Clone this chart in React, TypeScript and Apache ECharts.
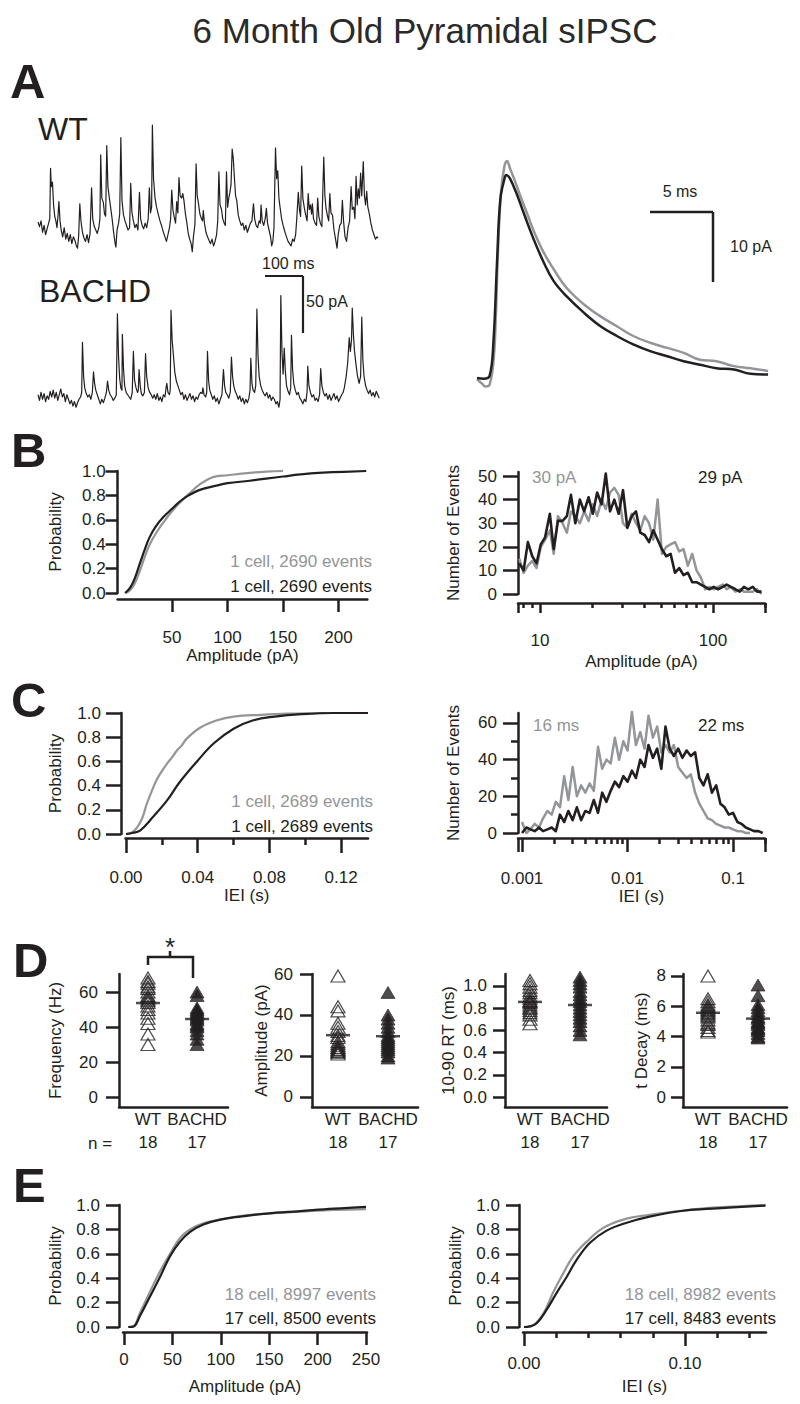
import React, { useEffect, useRef } from 'react';
import * as echarts from 'echarts';

// ---------------- DATA ----------------
// Panel A: raw sIPSC traces (time ms, current pA; inward events drawn upward)
const wtTrace: number[][] = [[0,7],[4,3],[8,8],[12,-2],[16,4],[20,-4],[24,1],[28,6],[31,10],[33,54],[35,38],[38,42],[41,22],[44,12],[47,8],[50,2],[53,14],[55,25],[58,8],[61,0],[65,-6],[69,2],[73,-8],[77,-3],[81,-10],[85,-4],[89,-12],[93,-6],[97,-9],[101,-14],[104,-16],[107,-5],[110,23],[113,8],[117,-2],[121,-7],[125,-10],[129,-4],[133,-11],[137,-3],[141,37],[144,10],[148,3],[152,0],[156,-3],[160,2],[163,10],[165,66],[168,28],[172,24],[175,14],[178,12],[181,74],[184,38],[187,30],[191,20],[195,10],[199,-2],[203,-12],[205,-15],[208,0],[212,6],[215,14],[218,81],[221,26],[225,13],[229,8],[233,4],[237,0],[241,2],[244,41],[247,16],[251,8],[255,2],[259,5],[263,0],[267,33],[270,10],[274,4],[278,1],[282,6],[286,2],[290,10],[293,37],[296,15],[299,20],[301,92],[304,45],[308,28],[312,20],[317,13],[321,8],[325,4],[330,-2],[334,-6],[338,-10],[342,-4],[346,2],[349,10],[352,35],[355,18],[358,12],[362,6],[365,25],[368,15],[371,46],[374,30],[378,28],[381,32],[384,26],[388,14],[391,8],[395,-2],[399,-8],[403,-12],[406,-19],[409,-6],[413,5],[416,58],[419,30],[422,24],[426,14],[430,10],[433,8],[435,17],[438,6],[442,-2],[446,-6],[450,-9],[454,-12],[458,-8],[462,-14],[466,-10],[470,-4],[473,8],[476,51],[479,22],[483,18],[486,10],[490,6],[493,4],[496,51],[499,20],[502,28],[505,33],[508,40],[511,71],[514,62],[517,45],[520,30],[523,26],[527,13],[531,8],[535,4],[539,6],[543,0],[547,4],[551,-2],[555,2],[559,6],[563,8],[567,23],[570,10],[574,4],[578,2],[582,8],[585,6],[587,22],[590,8],[594,4],[598,10],[601,19],[604,6],[608,0],[612,-6],[615,-14],[618,-10],[621,2],[625,72],[628,45],[631,52],[634,28],[637,20],[641,10],[645,4],[650,-2],[654,-6],[658,-10],[662,-12],[666,-14],[670,-8],[674,-10],[678,-4],[681,10],[685,33],[688,18],[691,12],[694,56],[697,28],[701,19],[704,14],[708,8],[711,32],[714,18],[717,22],[720,14],[722,23],[725,10],[729,6],[733,4],[736,28],[739,12],[743,6],[747,3],[752,64],[755,30],[758,19],[762,12],[765,8],[768,32],[771,15],[775,13],[779,0],[783,-8],[787,-16],[790,-4],[794,4],[798,6],[801,26],[804,8],[808,-6],[812,-10],[816,2],[820,8],[824,38],[827,18],[831,20],[834,10],[837,47],[840,22],[843,36],[846,28],[849,50],[852,30],[856,60],[859,30],[862,22],[865,34],[868,20],[872,14],[876,6],[880,0],[884,-4],[888,-8],[892,-6],[895,-7]];

const bachdTrace: number[][] = [[0,2],[4,-3],[8,4],[12,-2],[16,3],[20,-4],[24,1],[28,-2],[32,5],[36,0],[40,6],[44,-1],[48,4],[52,-3],[56,2],[60,7],[64,0],[68,3],[72,-4],[76,2],[80,-2],[84,-6],[88,-3],[92,-8],[96,-4],[100,-9],[104,-5],[108,-2],[112,0],[115,4],[117,48],[120,18],[123,8],[127,3],[131,0],[135,2],[139,-2],[143,4],[146,22],[149,12],[152,6],[156,2],[160,-2],[164,-6],[168,-2],[172,-5],[176,-1],[180,4],[183,14],[186,6],[190,2],[194,0],[198,-3],[202,-1],[206,2],[209,73],[212,35],[215,16],[218,8],[221,6],[222,55],[225,25],[228,10],[232,4],[236,2],[240,0],[244,-2],[248,4],[251,40],[254,15],[258,8],[262,4],[264,6],[266,24],[269,10],[272,3],[276,1],[280,4],[283,38],[286,18],[290,8],[294,4],[298,2],[302,-1],[306,2],[310,-2],[314,3],[318,-3],[322,0],[326,-4],[330,2],[334,0],[337,8],[339,12],[342,4],[346,2],[348,6],[350,76],[353,50],[356,38],[360,22],[364,14],[368,10],[372,6],[376,2],[380,4],[384,-2],[388,2],[392,-3],[396,0],[400,3],[404,-2],[408,1],[412,-4],[416,0],[420,-2],[424,2],[428,4],[432,3],[434,8],[437,2],[441,0],[444,4],[446,40],[449,14],[452,6],[456,2],[460,-2],[464,1],[468,-4],[472,-1],[476,-6],[480,-2],[484,2],[488,24],[491,10],[494,4],[498,2],[502,-1],[506,4],[509,35],[512,18],[515,10],[519,5],[523,2],[527,-2],[531,1],[535,-4],[539,-1],[543,-6],[547,-2],[551,-5],[555,-1],[558,6],[560,34],[563,12],[566,6],[570,4],[573,10],[576,77],[579,36],[582,18],[586,10],[590,6],[594,3],[598,1],[602,4],[606,-1],[610,2],[614,-3],[618,0],[622,-2],[626,-6],[630,-4],[634,-9],[637,-2],[639,89],[642,40],[645,20],[648,43],[651,22],[654,10],[658,5],[662,2],[665,8],[667,54],[670,24],[673,12],[677,6],[681,2],[685,4],[689,-1],[693,-3],[697,-6],[701,-2],[705,-4],[708,4],[710,27],[713,10],[717,4],[721,0],[725,2],[729,-3],[733,-1],[737,-4],[741,2],[744,25],[747,10],[751,4],[755,1],[759,3],[763,-2],[767,2],[771,-3],[775,0],[779,3],[783,-2],[787,1],[791,-4],[795,-1],[799,2],[803,4],[806,8],[808,12],[811,18],[815,30],[819,52],[822,40],[825,50],[827,78],[830,55],[833,40],[837,28],[841,18],[845,12],[849,18],[852,70],[855,32],[858,18],[862,10],[866,6],[870,3],[874,6],[878,1],[882,4],[886,0],[890,5],[894,2],[898,-1]];

// Panel A right: averaged sIPSC (time ms, pA)
const avgWT: number[][] = [[0,-0.2],[0.4,-0.8],[0.66,-1.2],[1.0,-0.95],[1.32,2.6],[1.5,9],[1.64,16.9],[1.9,26.4],[2.17,30.2],[2.38,31],[2.65,29.8],[3.0,28.2],[3.44,26],[4.0,23.4],[4.5,21],[5.3,17.9],[6.1,15.5],[7.1,12.9],[8.5,10.5],[9.8,8.8],[11.1,7.4],[12.4,6],[13.8,5],[15.1,4.3],[16.4,3.6],[17.7,2.6],[19.0,2.4],[20.4,1.7],[21.7,1.4],[23.1,1]];
const avgBACHD: number[][] = [[0,0],[0.53,-0.1],[1.0,0.3],[1.3,5],[1.6,17],[1.85,25.5],[2.2,28.6],[2.33,29],[2.9,27.4],[3.7,23.6],[4.5,19.8],[5.3,16.5],[6.1,13.8],[7.1,11.7],[8.5,9.3],[9.8,7.4],[11.1,6],[12.4,4.8],[13.8,3.8],[15.1,3.1],[16.4,2.4],[17.7,1.9],[19.0,1.4],[20.4,1.2],[21.7,0.6],[23.1,0.5]];

// Panel B left: amplitude cumulative probability (pA, P)
const ampCdfWT: number[][] = [[8,0],[12,0.02],[16,0.07],[21,0.18],[26,0.31],[30,0.4],[37,0.51],[44,0.6],[50,0.67],[57,0.74],[65,0.81],[75,0.89],[87,0.95],[100,0.965],[120,0.985],[135,0.995],[150,1.0]];
const ampCdfBACHD: number[][] = [[7.7,0],[12,0.04],[16,0.11],[21,0.24],[26,0.37],[30,0.46],[35,0.54],[42,0.62],[50,0.69],[57,0.75],[65,0.8],[75,0.845],[90,0.88],[100,0.9],[120,0.92],[150,0.955],[175,0.98],[195,0.99],[225,1.0]];

// Panel B right: amplitude histogram (log bins)
const ampBins = [7.59,8.04,8.51,9.02,9.55,10.1,10.7,11.4,12.0,12.7,13.5,14.3,15.1,16.0,17.0,18.0,19.1,20.2,21.4,22.7,24.0,25.4,26.9,28.5,30.2,32.0,33.9,35.9,38.0,40.3,42.7,45.2,47.9,50.7,53.7,56.9,60.3,63.8,67.6,71.6,75.9,80.4,85.1,90.2,95.5,101,107,114,120,127,135,143,151,160,170,180,191];
const ampHistWT = [15,9,12,14,11,20,23,27,17,33,30,26,35,33,30,35,31,38,33,40,36,43,45,42,30,28,34,30,27,33,30,23,40,17,20,21,22,18,19,12,17,10,7,2,3,2,3,4,2,3,1,2,1,1,1,2,0];
const ampHistBACHD = [13,10,22,16,13,21,24,34,19,31,31,33,42,30,40,35,41,34,43,38,51,35,40,34,44,28,33,35,26,25,22,27,23,19,16,17,9,11,8,9,5,5,4,3,2,3,2,3,4,3,2,1,3,2,3,1,1];
const ampMajor = [10, 100];
const ampMinor = [8, 9, 20, 30, 40, 50, 60, 70, 80, 90, 200];

// Panel C left: IEI cumulative probability (s, P)
const ieiCdfWT: number[][] = [[0,0],[0.003,0.01],[0.006,0.05],[0.009,0.13],[0.0116,0.25],[0.0145,0.36],[0.0172,0.45],[0.02,0.52],[0.0228,0.58],[0.026,0.64],[0.0284,0.69],[0.031,0.73],[0.034,0.79],[0.0415,0.88],[0.0508,0.94],[0.06,0.97],[0.075,0.985],[0.09,0.995],[0.1116,1.0]];
const ieiCdfBACHD: number[][] = [[0,0],[0.004,0.01],[0.008,0.03],[0.015,0.14],[0.023,0.28],[0.03,0.43],[0.0396,0.6],[0.049,0.75],[0.06,0.87],[0.071,0.94],[0.083,0.97],[0.098,0.99],[0.116,1.0],[0.135,1.0]];

// Panel C right: IEI histogram (log bins, s)
const ieiBins = [0.00100,0.00110,0.00120,0.00132,0.00145,0.00158,0.00174,0.00191,0.00209,0.00229,0.00251,0.00275,0.00302,0.00331,0.00363,0.00398,0.00437,0.00479,0.00525,0.00575,0.00631,0.00692,0.00759,0.00832,0.00912,0.0100,0.0110,0.0120,0.0132,0.0145,0.0158,0.0174,0.0191,0.0209,0.0229,0.0251,0.0275,0.0302,0.0331,0.0363,0.0398,0.0437,0.0479,0.0525,0.0575,0.0631,0.0692,0.0759,0.0832,0.0912,0.100,0.110,0.120,0.132,0.145,0.158,0.174,0.191];
const ieiHistWT = [6,0,2,5,3,8,12,10,17,14,31,18,36,20,26,22,27,23,47,35,40,38,52,40,50,45,66,48,55,46,64,52,58,44,48,44,48,36,33,30,32,22,16,12,8,7,5,4,3,3,2,1,1,0,0];
const ieiHistBACHD = [0,3,2,1,3,1,2,3,1,10,6,12,7,14,7,12,11,18,11,22,17,23,28,25,31,28,34,30,40,36,48,41,46,35,58,46,42,46,41,45,42,44,30,26,32,22,26,16,14,10,11,6,5,3,2,1,1,0];
const ieiMajor = [0.001, 0.01, 0.1];
const ieiMinor = [0.002,0.003,0.004,0.005,0.006,0.007,0.008,0.009,0.02,0.03,0.04,0.05,0.06,0.07,0.08,0.09,0.2];

// Panel D: per-cell values
const groups = ['WT', 'BACHD'];
const nCells = [18, 17];
const freqWT = [68,66,65,63,62,60,58,57,56,55,54,52,50,48,45,42,36,30];
const freqBACHD = [60,58,51,50,49,48,47,46,45,44,42,41,40,38,36,33,30];
const ampWT = [59,44,42,36,34,32,30,29,27,26,25,24,24,23,23,22,22,21];
const ampBACHD = [51,40,38,36,34,32,30,29,28,27,26,25,24,23,22,20,19];
const rtWT = [1.05,1.02,0.99,0.96,0.94,0.91,0.89,0.87,0.86,0.85,0.83,0.81,0.80,0.78,0.76,0.74,0.70,0.66];
const rtBACHD = [1.08,1.05,1.02,0.99,0.95,0.92,0.89,0.86,0.83,0.80,0.77,0.74,0.71,0.68,0.64,0.60,0.56];
const decayWT = [8.0,6.5,6.3,6.1,6.0,5.9,5.8,5.7,5.6,5.5,5.4,5.3,5.1,4.9,4.8,4.6,4.4,4.3];
const decayBACHD = [7.4,6.7,6.1,5.9,5.7,5.5,5.3,5.2,5.0,4.9,4.8,4.6,4.5,4.4,4.2,4.0,3.9];

// Panel E: pooled cumulative probability
const ampCdfAllWT: number[][] = [[4.5,0],[9.7,0.005],[16.5,0.115],[26.9,0.29],[37.2,0.455],[47.6,0.6],[57.9,0.73],[68.3,0.8],[82,0.85],[99.3,0.88],[120,0.91],[147.6,0.93],[182,0.945],[216.6,0.96],[250,0.967]];
const ampCdfAllBACHD: number[][] = [[4.5,0],[9.7,0.003],[16.5,0.09],[26.9,0.25],[37.2,0.41],[47.6,0.58],[57.9,0.7],[68.3,0.78],[82,0.84],[99.3,0.88],[120,0.905],[147.6,0.93],[182,0.95],[216.6,0.97],[250,0.985]];
const ieiCdfAllWT: number[][] = [[0,0],[0.0058,0.016],[0.012,0.11],[0.018,0.28],[0.0244,0.44],[0.0306,0.58],[0.039,0.7],[0.049,0.81],[0.0617,0.88],[0.078,0.92],[0.099,0.955],[0.12,0.98],[0.15,1.0]];
const ieiCdfAllBACHD: number[][] = [[0,0],[0.0037,0.005],[0.0079,0.03],[0.014,0.14],[0.0203,0.28],[0.0265,0.41],[0.0327,0.55],[0.041,0.69],[0.0513,0.79],[0.0638,0.855],[0.078,0.905],[0.099,0.953],[0.12,0.973],[0.15,0.995]];

// Tick values
const probTicks = [0, 0.2, 0.4, 0.6, 0.8, 1.0];

// ---------------- STYLE ----------------
const INK = '#231f20';
const GRAY = '#939598';
const FONT = '"Liberation Sans", Arial, Helvetica, sans-serif';
const TICK_FS = 17;
const NAME_FS = 17;

type AxOpt = {
  grid: number; min: number; max: number; type?: 'value' | 'log'; position: 'left' | 'bottom';
  offset?: number; hidden?: boolean; line?: boolean;
  ticks?: number[] | 'auto'; tickLen?: number;
  labels?: number[] | 'auto'; fmt?: (v: number) => string; margin?: number; lineHeight?: number;
  name?: string; nameGap?: number;
};

function axis(o: AxOpt): any {
  if (o.hidden) {
    return { type: 'value', gridIndex: o.grid, min: o.min, max: o.max, show: false, position: o.position };
  }
  const a: any = {
    type: o.type || 'value',
    gridIndex: o.grid, min: o.min, max: o.max, position: o.position, offset: o.offset || 0,
    axisLine: { show: o.line !== false, onZero: false, lineStyle: { color: INK, width: 2.5 } },
    splitLine: { show: false },
    minorTick: { show: false },
    minorSplitLine: { show: false },
  };
  if (o.type === 'log') a.logBase = 10;
  if (o.ticks) {
    a.axisTick = { show: true, inside: false, length: o.tickLen ?? 13, lineStyle: { color: INK, width: 2.5 } };
    if (o.ticks !== 'auto') a.axisTick.customValues = o.ticks;
  } else a.axisTick = { show: false };
  if (o.labels) {
    a.axisLabel = { show: true, margin: o.margin ?? 10, color: INK, fontSize: TICK_FS, fontFamily: FONT, formatter: o.fmt, showMinLabel: true, showMaxLabel: true };
    if (o.labels !== 'auto') a.axisLabel.customValues = o.labels;
    if (o.lineHeight) a.axisLabel.lineHeight = o.lineHeight;
  } else a.axisLabel = { show: false };
  if (o.name) {
    a.name = o.name; a.nameLocation = 'middle'; a.nameGap = o.nameGap;
    a.nameTextStyle = { color: INK, fontSize: NAME_FS, fontFamily: FONT };
  }
  return a;
}

const logFmt = (majors: number[]) => (v: number) => {
  const m = majors.find((mm) => Math.abs(v / mm - 1) < 1e-6);
  return m === undefined ? '' : String(m);
};
const groupFmt = (v: number) => (Number.isInteger(v) && v >= 0 && v < groups.length ? groups[v] + '\n' + nCells[v] : '');
const mean = (a: number[]) => a.reduce((s, x) => s + x, 0) / a.length;

function buildOption(): any {
  const grid = [
    { left: 38, top: 116, width: 342, height: 136.8 },
    { left: 38, top: 283, width: 342, height: 136.8 },
    { left: 470.7, top: 147, width: 308.7, height: 252 },
    { left: 117.6, top: 471, width: 249.75, height: 122 },
    { left: 518, top: 472, width: 247, height: 122 },
    { left: 125.5, top: 713, width: 242.5, height: 121 },
    { left: 518, top: 713, width: 246.8, height: 120 },
    { left: 119, top: 974, width: 109, height: 133 },
    { left: 312, top: 974, width: 106, height: 133 },
    { left: 505, top: 974, width: 102, height: 133 },
    { left: 683, top: 974, width: 104, height: 133 },
    { left: 123, top: 1205, width: 244, height: 122 },
    { left: 523, top: 1205, width: 243, height: 122 },
  ].map((g) => ({ ...g, containLabel: false, outerBoundsMode: 'none' }));

  const xAxis = [
    axis({ grid: 0, min: 0, max: 900, position: 'bottom', hidden: true }),
    axis({ grid: 1, min: 0, max: 900, position: 'bottom', hidden: true }),
    axis({ grid: 2, min: -0.5, max: 24, position: 'bottom', hidden: true }),
    axis({ grid: 3, min: 1, max: 226, position: 'bottom', offset: 6, ticks: [50, 100, 150, 200], tickLen: 13, labels: [50, 100, 150, 200], margin: 30, name: 'Amplitude (pA)', nameGap: 47 }),
    axis({ grid: 4, type: 'log', min: 7.46, max: 200, position: 'bottom', offset: 9, ticks: 'auto', tickLen: 10, labels: 'auto', fmt: logFmt(ampMajor), margin: 29, name: 'Amplitude (pA)', nameGap: 50 }),
    axis({ grid: 4, type: 'log', min: 7.46, max: 200, position: 'bottom', offset: 9, line: false, ticks: ampMinor, tickLen: 5 }),
    axis({ grid: 5, min: -0.0003, max: 0.135, position: 'bottom', offset: 4, ticks: [0, 0.04, 0.08, 0.12], tickLen: 15, labels: [0, 0.04, 0.08, 0.12], fmt: (v) => v.toFixed(2), margin: 31, name: 'IEI (s)', nameGap: 48 }),
    axis({ grid: 5, min: -0.0003, max: 0.135, position: 'bottom', offset: 4, line: false, ticks: [0.02, 0.06, 0.1], tickLen: 7 }),
    axis({ grid: 6, type: 'log', min: 0.000916, max: 0.2, position: 'bottom', offset: 5, ticks: 'auto', tickLen: 14, labels: 'auto', fmt: logFmt(ieiMajor), margin: 32, name: 'IEI (s)', nameGap: 48 }),
    axis({ grid: 6, type: 'log', min: 0.000916, max: 0.2, position: 'bottom', offset: 5, line: false, ticks: ieiMinor, tickLen: 6 }),
    axis({ grid: 7, min: -0.59, max: 1.63, position: 'bottom', labels: [0, 1], fmt: groupFmt, margin: 1, lineHeight: 23 }),
    axis({ grid: 8, min: -0.52, max: 1.6, position: 'bottom', labels: [0, 1], fmt: groupFmt, margin: 1, lineHeight: 23 }),
    axis({ grid: 9, min: -0.5, max: 1.54, position: 'bottom', labels: [0, 1], fmt: groupFmt, margin: 1, lineHeight: 23 }),
    axis({ grid: 10, min: -0.5, max: 1.58, position: 'bottom', labels: [0, 1], fmt: groupFmt, margin: 1, lineHeight: 23 }),
    axis({ grid: 11, min: -1, max: 251, position: 'bottom', offset: 5, ticks: [0, 50, 100, 150, 200, 250], tickLen: 13, labels: [0, 50, 100, 150, 200, 250], margin: 19, name: 'Amplitude (pA)', nameGap: 46 }),
    axis({ grid: 12, min: -0.0006, max: 0.1503, position: 'bottom', offset: 5, ticks: [0, 0.1], tickLen: 14, labels: [0, 0.1], fmt: (v) => v.toFixed(2), margin: 23, name: 'IEI (s)', nameGap: 46 }),
    axis({ grid: 12, min: -0.0006, max: 0.1503, position: 'bottom', offset: 5, line: false, ticks: [0.02, 0.04, 0.06, 0.08, 0.12, 0.14], tickLen: 6 }),
  ];

  const p1 = (v: number) => v.toFixed(1);
  const yAxis = [
    axis({ grid: 0, min: -20, max: 100, position: 'left', hidden: true }),
    axis({ grid: 1, min: -20, max: 100, position: 'left', hidden: true }),
    axis({ grid: 2, min: -3, max: 33, position: 'left', hidden: true }),
    axis({ grid: 3, min: 0, max: 1, position: 'left', ticks: probTicks, tickLen: 12, labels: probTicks, fmt: p1, margin: 12, name: 'Probability', nameGap: 54 }),
    axis({ grid: 4, min: 0, max: 51.7, position: 'left', ticks: [0, 10, 20, 30, 40, 50], tickLen: 15, labels: [0, 10, 20, 30, 40, 50], margin: 21, name: 'Number of Events', nameGap: 56 }),
    axis({ grid: 5, min: 0, max: 1, position: 'left', offset: 4.5, ticks: probTicks, tickLen: 15, labels: probTicks, fmt: p1, margin: 20, name: 'Probability', nameGap: 57 }),
    axis({ grid: 6, min: 0, max: 65.45, position: 'left', ticks: [0, 20, 40, 60], tickLen: 15, labels: [0, 20, 40, 60], margin: 21, name: 'Number of Events', nameGap: 56 }),
    axis({ grid: 6, min: 0, max: 65.45, position: 'left', line: false, ticks: [10, 30, 50], tickLen: 7 }),
    axis({ grid: 7, min: -5.7, max: 70.3, position: 'left', ticks: [0, 20, 40, 60], tickLen: 13, labels: [0, 20, 40, 60], margin: 21, name: 'Frequency (Hz)', nameGap: 55 }),
    axis({ grid: 8, min: -4.88, max: 60, position: 'left', ticks: [0, 20, 40, 60], tickLen: 12, labels: [0, 20, 40, 60], margin: 19, name: 'Amplitude (pA)', nameGap: 42 }),
    axis({ grid: 9, min: -0.09, max: 1.108, position: 'left', ticks: probTicks, tickLen: 12, labels: probTicks, fmt: p1, margin: 18, name: '10-90 RT (ms)', nameGap: 48 }),
    axis({ grid: 10, min: -0.66, max: 8.13, position: 'left', ticks: [0, 2, 4, 6, 8], tickLen: 12, labels: [0, 2, 4, 6, 8], margin: 17, name: 't Decay (ms)', nameGap: 33 }),
    axis({ grid: 11, min: 0, max: 1, position: 'left', offset: 4, ticks: probTicks, tickLen: 13, labels: probTicks, fmt: p1, margin: 19, name: 'Probability', nameGap: 55 }),
    axis({ grid: 12, min: 0, max: 1, position: 'left', offset: 4, ticks: probTicks, tickLen: 13, labels: probTicks, fmt: p1, margin: 19, name: 'Probability', nameGap: 55 }),
  ];

  const line = (data: any[], xi: number, yi: number, color: string, width: number, smooth: number | boolean = false) => ({
    type: 'line', data, xAxisIndex: xi, yAxisIndex: yi, showSymbol: false, symbol: 'none', smooth,
    lineStyle: { color, width, join: 'round' }, silent: true, clip: false,
  });
  const hist = (bins: number[], counts: number[]) => counts.map((c, i) => [bins[i], c]);

  const dots = (vals: number[], xPos: number, xi: number, yi: number, filled: boolean) => ({
    type: 'scatter', xAxisIndex: xi, yAxisIndex: yi, data: vals.map((v) => [xPos, v]),
    symbol: 'triangle', symbolSize: [14, 12], silent: true, clip: false,
    itemStyle: filled ? { color: INK, borderColor: INK, borderWidth: 0.8 } : { color: 'rgba(255,255,255,0)', borderColor: INK, borderWidth: 1.2 },
  });
  const means = (a: number[], b: number[], xi: number, yi: number) => ({
    type: 'scatter', xAxisIndex: xi, yAxisIndex: yi, data: [[0, mean(a)], [1, mean(b)]], z: 5,
    symbol: 'rect', symbolSize: [24, 2.5], itemStyle: { color: INK }, silent: true, clip: false,
  });

  const series: any[] = [
    line(wtTrace, 0, 0, INK, 1.2),
    line(bachdTrace, 1, 1, INK, 1.2),
    line(avgWT, 2, 2, GRAY, 2.5, 0.4),
    line(avgBACHD, 2, 2, INK, 2.5, 0.4),
    line(ampCdfWT, 3, 3, GRAY, 2.2, 0.4),
    line(ampCdfBACHD, 3, 3, INK, 2.2, 0.4),
    line(hist(ampBins, ampHistWT), 4, 4, GRAY, 2.5),
    line(hist(ampBins, ampHistBACHD), 4, 4, INK, 2.6),
    line(ieiCdfWT, 6, 5, GRAY, 2.2, 0.4),
    line(ieiCdfBACHD, 6, 5, INK, 2.2, 0.4),
    line(hist(ieiBins, ieiHistWT), 8, 6, GRAY, 2.5),
    line(hist(ieiBins, ieiHistBACHD), 8, 6, INK, 2.6),
    dots(freqWT, 0, 10, 8, false), dots(freqBACHD, 1, 10, 8, true), means(freqWT, freqBACHD, 10, 8),
    dots(ampWT, 0, 11, 9, false), dots(ampBACHD, 1, 11, 9, true), means(ampWT, ampBACHD, 11, 9),
    dots(rtWT, 0, 12, 10, false), dots(rtBACHD, 1, 12, 10, true), means(rtWT, rtBACHD, 12, 10),
    dots(decayWT, 0, 13, 11, false), dots(decayBACHD, 1, 13, 11, true), means(decayWT, decayBACHD, 13, 11),
    line(ampCdfAllWT, 14, 12, GRAY, 2.2, 0.4),
    line(ampCdfAllBACHD, 14, 12, INK, 2.2, 0.4),
    line(ieiCdfAllWT, 15, 13, GRAY, 2.2, 0.4),
    line(ieiCdfAllBACHD, 15, 13, INK, 2.2, 0.4),
  ];

  const txt = (text: string, x: number, y: number, opts: any = {}) => ({
    type: 'text', x, y, silent: true,
    style: { text, fill: opts.fill || INK, fontSize: opts.size || 17, fontFamily: FONT, fontWeight: opts.weight || 'normal', align: opts.align || 'left', verticalAlign: 'middle' },
  });
  const seg = (x1: number, y1: number, x2: number, y2: number, w = 2.5) => ({
    type: 'line', silent: true, shape: { x1, y1, x2, y2 }, style: { stroke: INK, lineWidth: w },
  });
  const letter = (t: string, x: number, y: number) => txt(t, x, y, { size: 49, weight: 'bold' });

  const graphic = [
    txt('6 Month Old Pyramidal sIPSC', 425, 30, { size: 35, align: 'center', fill: '#2a2a2a' }),
    letter('A', 10, 81), letter('B', 11, 450), letter('C', 11, 700), letter('D', 13, 960), letter('E', 13, 1185),
    txt('WT', 38, 129, { size: 32 }),
    txt('BACHD', 39, 291, { size: 32 }),
    seg(265, 276, 303, 276, 2.2), seg(303, 276, 303, 333, 2.2),
    txt('100 ms', 262, 263, { size: 16 }),
    txt('50 pA', 306, 301, { size: 16 }),
    seg(650, 212, 713, 212), seg(713, 212, 713, 282),
    txt('5 ms', 680, 191, { size: 16, align: 'center' }),
    txt('10 pA', 730, 246, { size: 16 }),
    txt('1 cell, 2690 events', 372, 561, { fill: GRAY, align: 'right' }),
    txt('1 cell, 2690 events', 372, 586, { align: 'right' }),
    txt('30 pA', 532, 477, { fill: GRAY }),
    txt('29 pA', 698, 477),
    txt('1 cell, 2689 events', 373, 801, { fill: GRAY, align: 'right' }),
    txt('1 cell, 2689 events', 373, 826, { align: 'right' }),
    txt('16 ms', 533, 725, { fill: GRAY }),
    txt('22 ms', 698, 725),
    { type: 'polyline', silent: true, shape: { points: [[148, 965], [148, 957], [193, 957], [193, 978]] }, style: { stroke: INK, lineWidth: 2.5, fill: null } },
    seg(170, 957, 170, 951),
    txt('*', 170, 947, { size: 26, align: 'center' }),
    txt('n =', 88, 1143),
    txt('18 cell, 8997 events', 376, 1294, { fill: GRAY, align: 'right' }),
    txt('17 cell, 8500 events', 376, 1318, { align: 'right' }),
    txt('18 cell, 8982 events', 776, 1294, { fill: GRAY, align: 'right' }),
    txt('17 cell, 8483 events', 776, 1318, { align: 'right' }),
  ];

  return {
    animation: false,
    backgroundColor: '#ffffff',
    textStyle: { fontFamily: FONT },
    grid, xAxis, yAxis, series, graphic,
  };
}

export default function App() {
  const ref = useRef<HTMLDivElement>(null);
  useEffect(() => {
    if (!ref.current) return;
    const chart = echarts.init(ref.current, null, { renderer: 'svg' });
    chart.setOption(buildOption());
    return () => chart.dispose();
  }, []);
  return <div ref={ref} style={{ position: 'absolute', left: 0, top: 0, width: 800, height: 1404, background: '#fff' }} />;
}
